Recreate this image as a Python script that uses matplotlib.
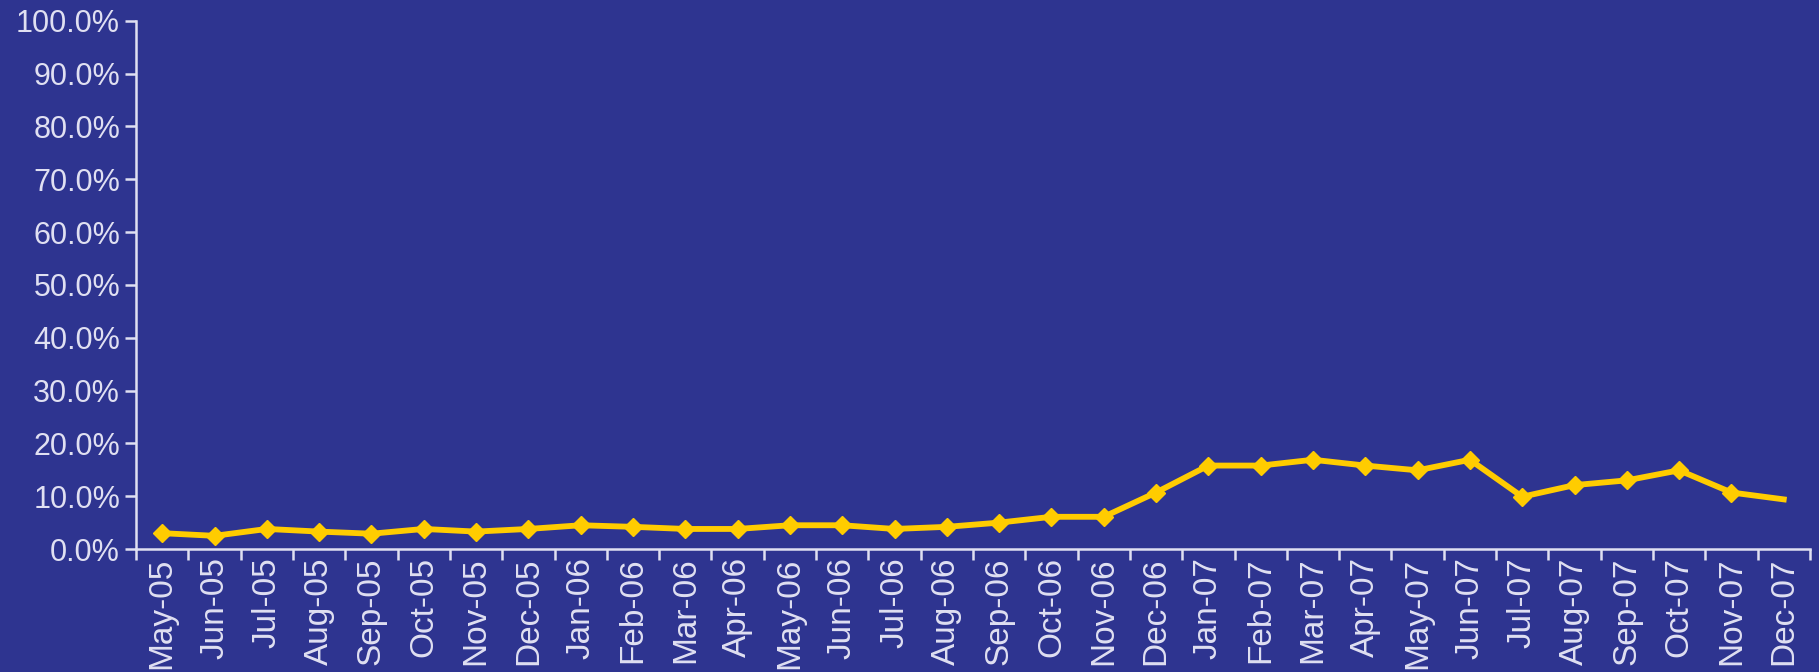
import matplotlib.pyplot as plt
import numpy as np
from matplotlib.ticker import PercentFormatter

months = ['May-05', 'Jun-05', 'Jul-05', 'Aug-05', 'Sep-05', 'Oct-05', 'Nov-05', 'Dec-05',
          'Jan-06', 'Feb-06', 'Mar-06', 'Apr-06', 'May-06', 'Jun-06', 'Jul-06', 'Aug-06',
          'Sep-06', 'Oct-06', 'Nov-06', 'Dec-06',
          'Jan-07', 'Feb-07', 'Mar-07', 'Apr-07', 'May-07', 'Jun-07', 'Jul-07', 'Aug-07',
          'Sep-07', 'Oct-07', 'Nov-07', 'Dec-07']
share = [3.0, 2.5, 3.8, 3.3, 2.9, 3.8, 3.3, 3.8,
         4.5, 4.2, 3.8, 3.8, 4.5, 4.5, 3.8, 4.2,
         5.0, 6.1, 6.1, 10.7,
         15.8, 15.8, 16.9, 15.8, 14.9, 16.9, 9.9, 12.1,
         13.0, 14.9, 10.7, 9.4]

bg = '#2e3490'
txt = '#e0e0f2'
gold = '#ffcc00'

plt.rcParams['font.family'] = ['Liberation Sans', 'DejaVu Sans']

fig = plt.figure(figsize=(18.19, 6.72), dpi=100, facecolor=bg)
ax = fig.add_axes([0.0748, 0.183, 0.9202, 0.786])
ax.set_facecolor(bg)

x = np.arange(len(months))
ax.plot(x, share, color=gold, lw=4.2, marker='D', ms=9.5, mec=gold, mfc=gold,
        markevery=list(range(len(months) - 1)), solid_joinstyle='round')

ax.set_xlim(-0.5, len(months) - 0.5)
ax.set_ylim(0, 100)
ax.set_yticks(np.arange(0, 101, 10))
ax.yaxis.set_major_formatter(PercentFormatter(decimals=1))

# ticks between categories, labels at category centres
ax.set_xticks(np.arange(-0.5, len(months), 1.0))
ax.set_xticklabels([])
ax.set_xticks(x, minor=True)
ax.set_xticklabels(months, minor=True, rotation=90, va='top', ha='center')

for s in ['top', 'right']:
    ax.spines[s].set_visible(False)
for s in ['left', 'bottom']:
    ax.spines[s].set_color(txt)
    ax.spines[s].set_linewidth(1.8)

ax.tick_params(axis='both', which='major', colors=txt, labelsize=22, length=8, width=1.8)
ax.tick_params(axis='x', which='minor', colors=txt, labelsize=24, length=0, pad=6)

plt.savefig('out.png', dpi=100, facecolor=bg)
